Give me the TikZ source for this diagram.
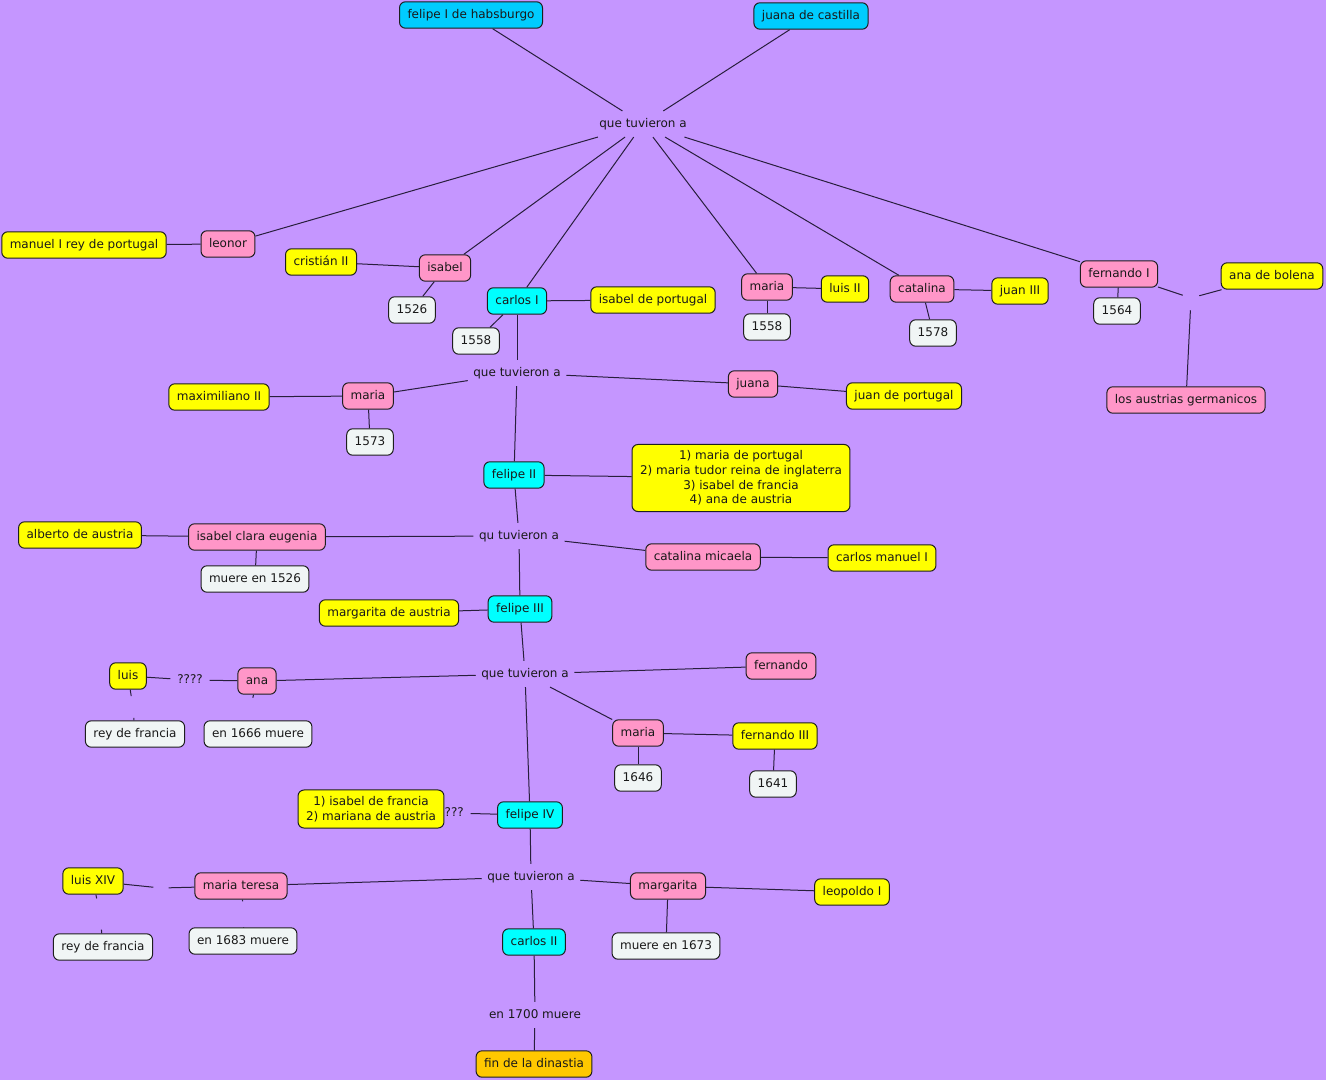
\documentclass[tikz,border=0pt]{standalone}
\usepackage{fontspec}
\setmainfont{DejaVu Sans}
\usetikzlibrary{backgrounds}
\definecolor{bgc}{RGB}{197,150,255}
\definecolor{cyanA}{RGB}{0,204,255}
\definecolor{cyanB}{RGB}{0,255,255}
\definecolor{pinkc}{RGB}{255,150,200}
\definecolor{yellc}{RGB}{255,255,0}
\definecolor{lightc}{RGB}{240,245,245}
\definecolor{orangec}{RGB}{255,200,0}
\definecolor{bordc}{RGB}{30,30,30}
\definecolor{linec}{RGB}{40,30,60}
\definecolor{txtc}{RGB}{25,25,25}
\newcommand{\fnt}{\fontsize{9}{10.9}\selectfont}
\tikzset{
  x=0.75pt, y=-0.75pt,
  base/.style={font=\fnt, text=txtc, text height=7pt, text depth=2.2pt},
  box/.style={base, draw=bordc, line width=0.75pt, rounded corners=4.5pt,
    inner xsep=6pt, inner ysep=0pt, minimum height=19.8pt},
  cA/.style={box, fill=cyanA},
  cB/.style={box, fill=cyanB},
  pk/.style={box, fill=pinkc},
  yl/.style={box, fill=yellc},
  lt/.style={box, fill=lightc},
  og/.style={box, fill=orangec},
  multi/.style={text height=, text depth=, align=center, inner ysep=4.8pt},
  link/.style={base, inner xsep=4pt, inner ysep=5pt},
  inv/.style={inner sep=0pt, draw=none},
  con/.style={draw=linec, line width=0.75pt}
}
\begin{document}
\begin{tikzpicture}
% top
\node[cA] (fI) at (471,15) {felipe I de habsburgo};
\node[cA] (jc) at (811,16) {juana de castilla};
\node[link] (q1) at (643,124) {que tuvieron a};
% children row
\node[yl] (manuel) at (84,245) {manuel I rey de portugal};
\node[pk] (leonor) at (228,244) {leonor};
\node[yl] (cristian) at (321,262) {cristián II};
\node[pk] (isabel) at (445,268) {isabel};
\node[lt] (y1526) at (412,310) {1526};
\node[cB] (carlosI) at (517,301) {carlos I};
\node[lt] (y1558a) at (476,341) {1558};
\node[yl] (isabelpt) at (653,300) {isabel de portugal};
\node[pk] (maria1) at (767,287) {maria};
\node[yl] (luisII) at (845,289) {luis II};
\node[lt] (y1558b) at (767,327) {1558};
\node[pk] (catalina) at (922,289) {catalina};
\node[yl] (juanIII) at (1020,291) {juan III};
\node[lt] (y1578) at (933,333) {1578};
\node[pk] (fernandoI) at (1119,274) {fernando I};
\node[lt] (y1564) at (1117,311) {1564};
\node[yl] (bolena) at (1272,276) {ana de bolena};
\node[inv, minimum width=12pt, minimum height=18pt] (inv1) at (1191,298) {};
\node[pk] (austrias) at (1186,400) {los austrias germanicos};
% carlos I children
\node[link] (q2) at (517,373) {que tuvieron a};
\node[yl] (maxim) at (219,397) {maximiliano II};
\node[pk] (maria2) at (368,396) {maria};
\node[lt] (y1573) at (370,442) {1573};
\node[pk] (juana) at (753,384) {juana};
\node[yl] (juanpt) at (904,396) {juan de portugal};
\node[cB] (felipeII) at (514,475) {felipe II};
\node[yl, multi] (mar1) at (741,478) {1) maria de portugal\\2) maria tudor reina de inglaterra\\3) isabel de francia\\4) ana de austria};
% felipe II children
\node[link] (q3) at (519,536) {qu tuvieron a};
\node[yl] (alberto) at (80,535) {alberto de austria};
\node[pk] (isabelce) at (257,537) {isabel clara eugenia};
\node[lt] (muere1526) at (255,579) {muere en 1526};
\node[pk] (catmic) at (703,557) {catalina micaela};
\node[yl] (carlosman) at (882,558) {carlos manuel I};
\node[cB] (felipeIII) at (520,609) {felipe III};
\node[yl] (margaus) at (389,613) {margarita de austria};
% felipe III children
\node[link] (q4) at (525,674) {que tuvieron a};
\node[yl] (luis) at (128,676) {luis};
\node[link, inner xsep=5pt] (qq1) at (190,680) {????};
\node[pk] (ana) at (257,681) {ana};
\node[inv, minimum width=6pt, minimum height=16pt] (inv2) at (133,707) {};
\node[lt] (reyfr1) at (135,734) {rey de francia};
\node[inv, minimum width=6pt, minimum height=16.5pt] (inv3) at (250,709) {};
\node[lt] (en1666) at (258,734) {en 1666 muere};
\node[pk] (fernando) at (781,666) {fernando};
\node[pk] (maria3) at (638,733) {maria};
\node[yl] (fernIII) at (775,736) {fernando III};
\node[lt] (y1646) at (638,778) {1646};
\node[lt] (y1641) at (773,784) {1641};
\node[cB] (felipeIV) at (530,815) {felipe IV};
\node[link, inner xsep=5pt] (qq2) at (451,813) {????};
\node[yl, multi] (mar2) at (371,809) {1) isabel de francia\\2) mariana de austria};
% felipe IV children
\node[link] (q5) at (531,877) {que tuvieron a};
\node[yl] (luisXIV) at (93,881) {luis XIV};
\node[inv, minimum width=11pt, minimum height=8pt] (inv4) at (161,888) {};
\node[pk] (mariat) at (241,886) {maria teresa};
\node[inv, minimum width=6pt, minimum height=23pt] (inv5) at (100,914) {};
\node[lt] (reyfr2) at (103,947) {rey de francia};
\node[inv, minimum width=6pt, minimum height=20pt] (inv6) at (244,915) {};
\node[lt] (en1683) at (243,941) {en 1683 muere};
\node[pk] (margarita) at (668,886) {margarita};
\node[yl] (leopoldo) at (852,892) {leopoldo I};
\node[lt] (muere1673) at (666,946) {muere en 1673};
\node[cB] (carlosII) at (534,942) {carlos II};
\node[link] (q6) at (535,1015) {en 1700 muere};
\node[og] (fin) at (534,1064) {fin de la dinastia};

\begin{pgfonlayer}{background}
\fill[bgc] (0,0) rectangle (1326,1080);
\draw[con] (fI) -- (q1);
\draw[con] (jc) -- (q1);
\draw[con] (q1) -- (leonor);
\draw[con] (q1) -- (isabel);
\draw[con] (q1) -- (carlosI);
\draw[con] (q1) -- (maria1);
\draw[con] (q1) -- (catalina);
\draw[con] (q1) -- (fernandoI);
\draw[con] (manuel) -- (leonor);
\draw[con] (cristian) -- (isabel);
\draw[con] (isabel) -- (y1526);
\draw[con] (carlosI) -- (isabelpt);
\draw[con] (carlosI) -- (y1558a);
\draw[con] (carlosI) -- (q2);
\draw[con] (maria1) -- (luisII);
\draw[con] (maria1) -- (y1558b);
\draw[con] (catalina) -- (juanIII);
\draw[con] (catalina) -- (y1578);
\draw[con] (fernandoI) -- (y1564);
\draw[con] (fernandoI) -- (inv1);
\draw[con] (bolena) -- (inv1);
\draw[con] (inv1) -- (austrias);
\draw[con] (q2) -- (maria2);
\draw[con] (q2) -- (juana);
\draw[con] (q2) -- (felipeII);
\draw[con] (maria2) -- (maxim);
\draw[con] (maria2) -- (y1573);
\draw[con] (juana) -- (juanpt);
\draw[con] (felipeII) -- (mar1);
\draw[con] (felipeII) -- (q3);
\draw[con] (q3) -- (isabelce);
\draw[con] (q3) -- (catmic);
\draw[con] (q3) -- (felipeIII);
\draw[con] (isabelce) -- (alberto);
\draw[con] (isabelce) -- (muere1526);
\draw[con] (catmic) -- (carlosman);
\draw[con] (felipeIII) -- (margaus);
\draw[con] (felipeIII) -- (q4);
\draw[con] (q4) -- (ana);
\draw[con] (q4) -- (fernando);
\draw[con] (q4) -- (maria3);
\draw[con] (q4) -- (felipeIV);
\draw[con] (luis) -- (qq1);
\draw[con] (qq1) -- (ana);
\draw[con] (luis) -- (inv2);
\draw[con] (inv2) -- (reyfr1);
\draw[con] (ana) -- (inv3);
\draw[con] (inv3) -- (en1666);
\draw[con] (maria3) -- (fernIII);
\draw[con] (maria3) -- (y1646);
\draw[con] (fernIII) -- (y1641);
\draw[con] (felipeIV) -- (qq2);
\draw[con] (felipeIV) -- (q5);
\draw[con] (q5) -- (mariat);
\draw[con] (q5) -- (margarita);
\draw[con] (q5) -- (carlosII);
\draw[con] (luisXIV) -- (inv4);
\draw[con] (inv4) -- (mariat);
\draw[con] (luisXIV) -- (inv5);
\draw[con] (inv5) -- (reyfr2);
\draw[con] (mariat) -- (inv6);
\draw[con] (inv6) -- (en1683);
\draw[con] (margarita) -- (leopoldo);
\draw[con] (margarita) -- (muere1673);
\draw[con] (carlosII) -- (q6);
\draw[con] (q6) -- (fin);
\end{pgfonlayer}
\end{tikzpicture}
\end{document}
